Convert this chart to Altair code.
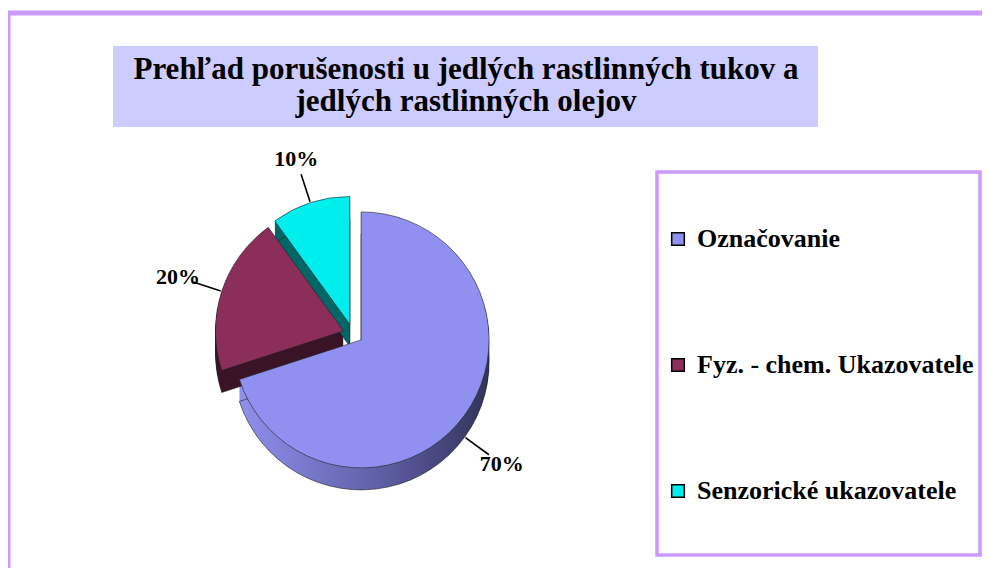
import altair as alt
import pandas as pd

# ---- data ----
CATEGORIES = ["Označovanie", "Fyz. - chem. Ukazovatele", "Senzorické ukazovatele"]
VALUES = [70, 20, 10]
LABELS = ["70%", "20%", "10%"]
TOP_COLORS = ["#9090F0", "#8B2E5A", "#00EEEE"]
SIDE_COLORS = ["#4A4A85", "#3A1426", "#006666"]
TITLE_LINES = ["Prehľad porušenosti u jedlých rastlinných tukov a", "jedlých rastlinných olejov"]

# ---- layout (plot coordinates) ----
CX, CY = 345, 326
R = 128
EXPLODE = 10
DEPTH = 22
PURPLE = "#CC99FF"
FONT = "Liberation Serif"

df = pd.DataFrame({
    "cat": CATEGORIES,
    "value": VALUES,
    "label": LABELS,
    "order": list(range(len(CATEGORIES))),
    "side": SIDE_COLORS,
})

dummy = pd.DataFrame({"a": [0]})

base = (
    alt.Chart(df)
    .transform_joinaggregate(total="sum(value)")
    .transform_window(cum="sum(value)", sort=[alt.SortField("order")], frame=[None, 0])
    .transform_calculate(t0="2*PI*(datum.cum - datum.value)/datum.total")
    .transform_calculate(t1="2*PI*datum.cum/datum.total")
    .transform_calculate(mid="(datum.t0 + datum.t1)/2")
    .transform_calculate(ex=f"{CX} + {EXPLODE}*sin(datum.mid)")
    .transform_calculate(ey=f"{CY} - {EXPLODE}*cos(datum.mid)")
)

X = lambda f: alt.X(f, scale=None, axis=None)
Y = lambda f: alt.Y(f, scale=None, axis=None)

# decorations (no fill, so the legend underneath stays visible)
outer = alt.Chart(dummy).mark_rect(fill=None, stroke=PURPLE, strokeWidth=5).encode(
    x=alt.value(0), x2=alt.value(1010), y=alt.value(5), y2=alt.value(620)
)
title_box = alt.Chart(dummy).mark_rect(fill="#CCCCFF").encode(
    x=alt.value(105), x2=alt.value(810), y=alt.value(38), y2=alt.value(119)
)
title_text = alt.Chart(dummy).mark_text(
    font=FONT, fontSize=31, fontWeight="bold", color="black",
    align="center", baseline="alphabetic", lineHeight=32,
).encode(x=alt.value(458), y=alt.value(71), text=alt.value(TITLE_LINES))
legend_box = alt.Chart(dummy).mark_rect(fill=None, stroke=PURPLE, strokeWidth=3.5).encode(
    x=alt.value(649), x2=alt.value(972), y=alt.value(164), y2=alt.value(547)
)

# 3D side (stacked copies)
side_common = (
    base.transform_calculate(d=f"sequence(1, {DEPTH + 1})")
    .transform_flatten(["d"])
    .transform_calculate(ey2="datum.ey + datum.d")
)
grad = alt.LinearGradient(
    gradient="linear", x1=0, x2=1, y1=0, y2=0,
    stops=[alt.GradientStop(color="#9090EE", offset=0),
           alt.GradientStop(color="#6060A8", offset=0.55),
           alt.GradientStop(color="#33335A", offset=1)],
)
side_main = side_common.transform_filter(alt.datum.order == 0).mark_arc(radius=R, fill=grad).encode(
    x=X("ex:Q"), y=Y("ey2:Q"),
    theta=alt.Theta("t0:Q", scale=None), theta2=alt.Theta2("t1:Q"),
)
side_rest = side_common.transform_filter(alt.datum.order > 0).mark_arc(radius=R).encode(
    x=X("ex:Q"), y=Y("ey2:Q"),
    theta=alt.Theta("t0:Q", scale=None), theta2=alt.Theta2("t1:Q"),
    fill=alt.Fill("side:N", scale=None, legend=None),
)
side_outline = base.transform_calculate(ey2=f"datum.ey + {DEPTH}").mark_arc(
    radius=R, fill=None, stroke="#222222", strokeWidth=0.6
).encode(
    x=X("ex:Q"), y=Y("ey2:Q"),
    theta=alt.Theta("t0:Q", scale=None), theta2=alt.Theta2("t1:Q"),
)

top = base.mark_arc(radius=R, stroke="#222222", strokeWidth=0.6).encode(
    x=X("ex:Q"), y=Y("ey:Q"),
    theta=alt.Theta("t0:Q", scale=None), theta2=alt.Theta2("t1:Q"),
    color=alt.Color(
        "cat:N",
        scale=alt.Scale(domain=CATEGORIES, range=TOP_COLORS),
        legend=alt.Legend(
            orient="none", legendX=657, legendY=218, title=None, zindex=1,
            symbolType="square", symbolSize=160, symbolStrokeColor="black",
            symbolStrokeWidth=1.5, symbolOpacity=1,
            labelFont=FONT, labelFontSize=26, labelFontWeight="bold", labelColor="black",
            labelOffset=6, rowPadding=100, padding=0, labelLimit=400,
        ),
    ),
)

lab = (
    base.transform_calculate(dz=f"cos(datum.mid) < 0 ? {DEPTH} : 0")
    .transform_calculate(x1=f"datum.ex + {R + 1}*sin(datum.mid)")
    .transform_calculate(y1=f"datum.ey - {R + 1}*cos(datum.mid) + datum.dz")
    .transform_calculate(x2=f"datum.ex + {R + 30}*sin(datum.mid)")
    .transform_calculate(y2=f"datum.ey - {R + 30}*cos(datum.mid) + datum.dz")
    .transform_calculate(lx=f"datum.ex + {R + 46}*sin(datum.mid)")
    .transform_calculate(ly=f"datum.ey - {R + 46}*cos(datum.mid) + datum.dz")
)
leaders = lab.mark_rule(color="black", strokeWidth=1.6).encode(
    x=X("x1:Q"), y=Y("y1:Q"), x2="x2:Q", y2="y2:Q"
)
labels = lab.mark_text(
    font=FONT, fontSize=22, fontWeight="bold", color="black", align="center", baseline="middle"
).encode(x=X("lx:Q"), y=Y("ly:Q"), text="label:N")

chart = alt.layer(
    outer, title_box, title_text, legend_box,
    side_main, side_rest, side_outline, top, leaders, labels,
).properties(
    width=974, height=560, padding=0,
    autosize=alt.AutoSizeParams(type="none"),
    background="white",
).configure_view(stroke=None)

chart.save("out.html", embed_options={"renderer": "svg", "actions": False})
